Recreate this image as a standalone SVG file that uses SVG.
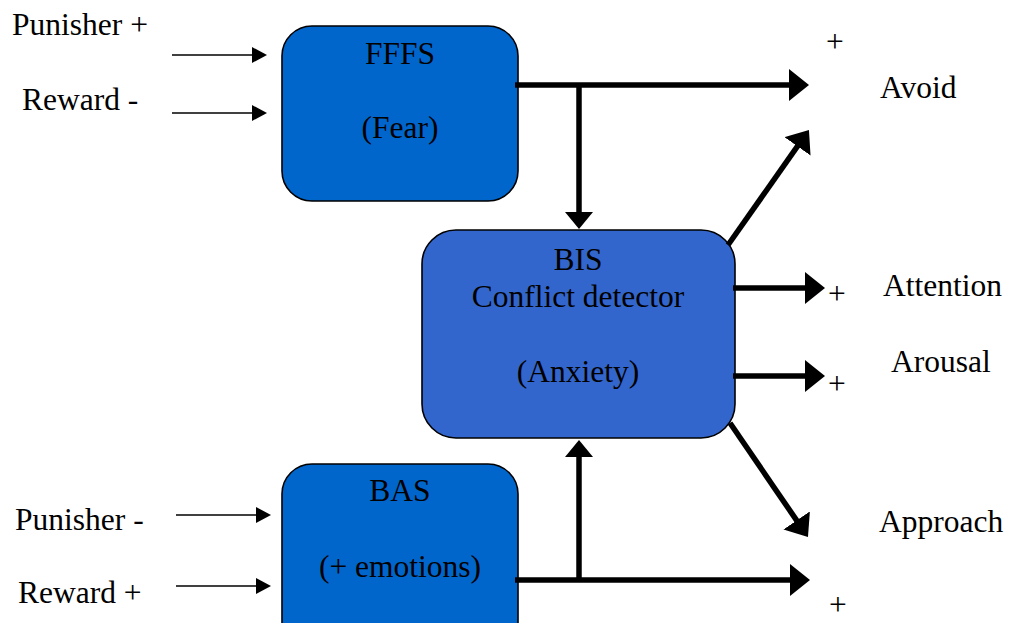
<svg xmlns="http://www.w3.org/2000/svg" width="1011" height="623" viewBox="0 0 1011 623">
<style>
text{font-family:"Liberation Serif","Times New Roman",serif;font-size:31.5px;fill:#000}
.c{text-anchor:middle}
.box{stroke:#000;stroke-width:1.6}
.thick{stroke:#000;stroke-width:5.5;fill:none}
.thin{stroke:#000;stroke-width:1.5;fill:none}
</style>
<defs>
<marker id="big" viewBox="0 0 20 32" markerUnits="userSpaceOnUse" markerWidth="20" markerHeight="32" refX="2" refY="16" orient="auto"><path d="M0,0 L20,16 L0,32 z" fill="#000"/></marker>
<marker id="mid" viewBox="0 0 17 28" markerUnits="userSpaceOnUse" markerWidth="17" markerHeight="28" refX="2" refY="14" orient="auto"><path d="M0,0 L17,14 L0,28 z" fill="#000"/></marker>
<marker id="sm" viewBox="0 0 15 16" markerUnits="userSpaceOnUse" markerWidth="15" markerHeight="16" refX="2" refY="8" orient="auto"><path d="M0,0 L15,8 L0,16 z" fill="#000"/></marker>
</defs>
<rect width="1011" height="623" fill="#fff"/>
<g id="fffs"><rect class="box" x="282" y="26" width="236" height="175" rx="30" fill="#0066CC"/><text class="c" x="400" y="64">FFFS</text><text class="c" x="400" y="138">(Fear)</text></g>
<g id="bis"><rect class="box" x="422" y="230" width="313" height="208" rx="34" fill="#3366CC"/><text class="c" x="578" y="270">BIS</text><text class="c" x="578" y="307">Conflict detector</text><text class="c" x="578" y="382">(Anxiety)</text></g>
<g id="bas"><rect class="box" x="282" y="464" width="236" height="200" rx="30" fill="#0066CC"/><text class="c" x="400" y="501">BAS</text><text class="c" x="400" y="577">(+ emotions)</text></g>
<g id="labels">
<text x="12" y="35">Punisher +</text>
<text x="22" y="110">Reward -</text>
<text x="15" y="530">Punisher -</text>
<text x="18" y="603">Reward +</text>
<text class="c" x="835" y="52">+</text>
<text x="880" y="98">Avoid</text>
<text class="c" x="837" y="304">+</text>
<text x="883" y="296">Attention</text>
<text x="891" y="372">Arousal</text>
<text class="c" x="837" y="394">+</text>
<text x="879" y="532">Approach</text>
<text class="c" x="838" y="615">+</text>
</g>
<g id="connectors">
<line class="thin" x1="172" y1="55" x2="254" y2="55" marker-end="url(#sm)"/>
<line class="thin" x1="172" y1="113" x2="254" y2="113" marker-end="url(#sm)"/>
<line class="thin" x1="176" y1="515" x2="258" y2="515" marker-end="url(#sm)"/>
<line class="thin" x1="176" y1="586" x2="258" y2="586" marker-end="url(#sm)"/>
<line class="thick" x1="515" y1="85" x2="791" y2="85" marker-end="url(#big)"/>
<line class="thick" x1="579" y1="85" x2="579" y2="214" marker-end="url(#mid)"/>
<line class="thick" x1="515" y1="580" x2="792" y2="580" marker-end="url(#big)"/>
<line class="thick" x1="579" y1="580" x2="579" y2="455" marker-end="url(#mid)"/>
<line class="thick" x1="733" y1="288" x2="807" y2="288" marker-end="url(#big)"/>
<line class="thick" x1="733" y1="376" x2="807" y2="376" marker-end="url(#big)"/>
<line class="thick" x1="728" y1="245" x2="798.6" y2="144.7" marker-end="url(#big)"/>
<line class="thick" x1="730" y1="423" x2="797.8" y2="522.1" marker-end="url(#big)"/>
</g>
</svg>
